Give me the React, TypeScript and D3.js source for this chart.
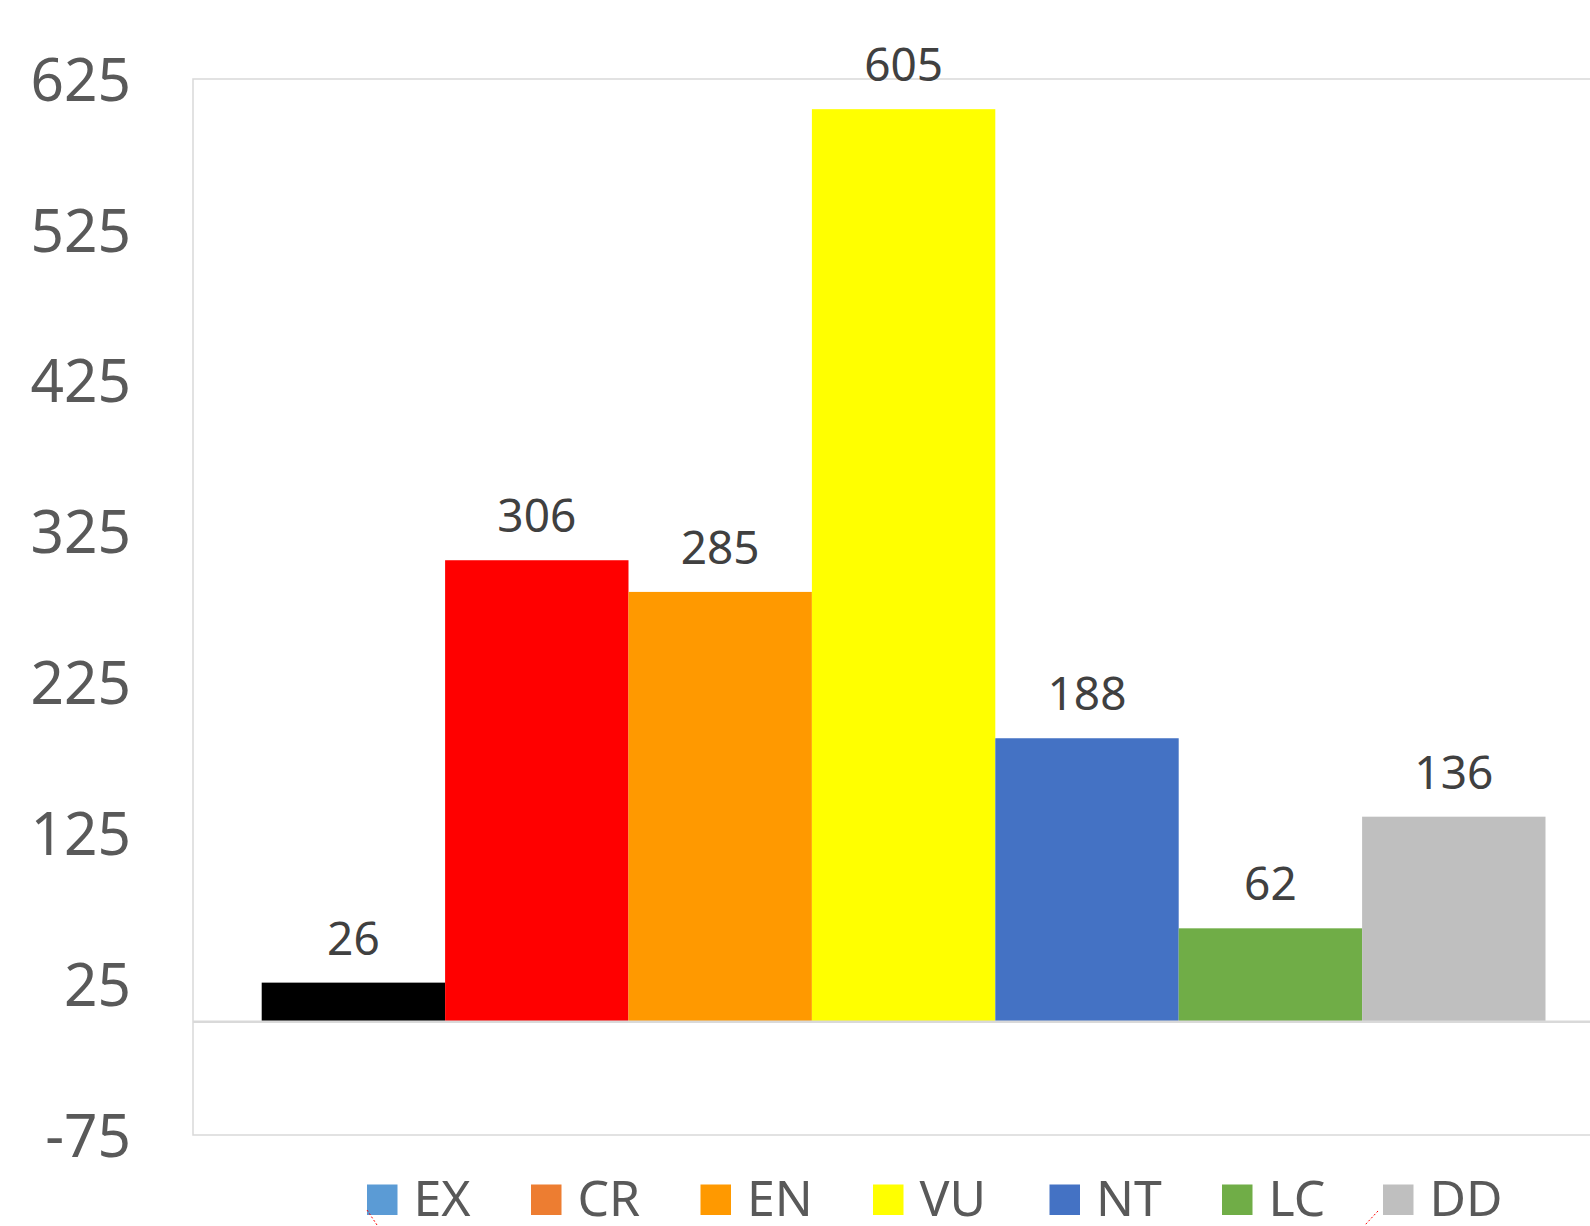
import React from "react";
import * as d3 from "d3";

const categories = ["EX", "CR", "EN", "VU", "NT", "LC", "DD"];
const values = [26, 306, 285, 605, 188, 62, 136];
const barColors = ["#000000", "#FF0000", "#FF9900", "#FFFF00", "#4472C4", "#70AD47", "#BFBFBF"];
const legendColors = ["#5B9BD5", "#ED7D31", "#FF9900", "#FFFF00", "#4472C4", "#70AD47", "#BFBFBF"];
const yTicks = [-75, 25, 125, 225, 325, 425, 525, 625];
const legendX = [367, 531, 700.5, 873, 1049.5, 1222, 1383];

const W = 1590;
const H = 1226;
const FONT = "'Noto Sans', 'Open Sans', sans-serif";

export default function App() {
  const plotLeft = 193;
  const plotTop = 79;
  const plotBottom = 1135;
  const plotRight = 1640;
  const y = d3.scaleLinear().domain([-75, 625]).range([plotBottom, plotTop]);
  const x = d3.scaleBand().domain(categories).range([261.7, 261.7 + 7 * 183.4]).padding(0);
  const y0 = y(0);

  return (
    <svg
      width={W}
      height={H}
      style={{ position: "absolute", left: 0, top: 0, background: "#fff" }}
      fontFamily={FONT}
    >
      <rect x={0} y={0} width={W} height={H} fill="#fff" />
      <rect
        x={plotLeft}
        y={plotTop}
        width={plotRight - plotLeft}
        height={plotBottom - plotTop}
        fill="none"
        stroke="#D9D9D9"
        strokeWidth={1.5}
      />
      {categories.map((c, i) => {
        const v = values[i];
        const top = y(v);
        return (
          <g key={c}>
            <rect x={x(c)} y={top} width={x.bandwidth()} height={y0 - top} fill={barColors[i]} />
            <text
              x={(x(c) as number) + x.bandwidth() / 2}
              y={top - 28}
              textAnchor="middle"
              fontSize={46}
              fill="#404040"
            >
              {v}
            </text>
          </g>
        );
      })}
      <line x1={plotLeft} x2={plotRight} y1={y0} y2={y0} stroke="#D9D9D9" strokeWidth={2.5} />
      {yTicks.map((t) => (
        <text
          key={t}
          transform={`translate(131,${y(t) + 0.357 * 61}) scale(0.96,1)`}
          textAnchor="end"
          fontSize={61}
          fill="#595959"
        >
          {t}
        </text>
      ))}
      {categories.map((c, i) => (
        <g key={"lg" + c}>
          <rect x={legendX[i]} y={1184.5} width={30.5} height={30.5} fill={legendColors[i]} />
          <text x={legendX[i] + 46.5} y={1216} fontSize={50} fill="#595959">
            {c}
          </text>
        </g>
      ))}
      <line x1={367} y1={1210} x2={377} y2={1225} stroke="#FF0000" strokeWidth={1} strokeDasharray="2,2" />
      <line x1={1378} y1={1211} x2={1365} y2={1225} stroke="#FF0000" strokeWidth={1} strokeDasharray="2,2" />
    </svg>
  );
}
